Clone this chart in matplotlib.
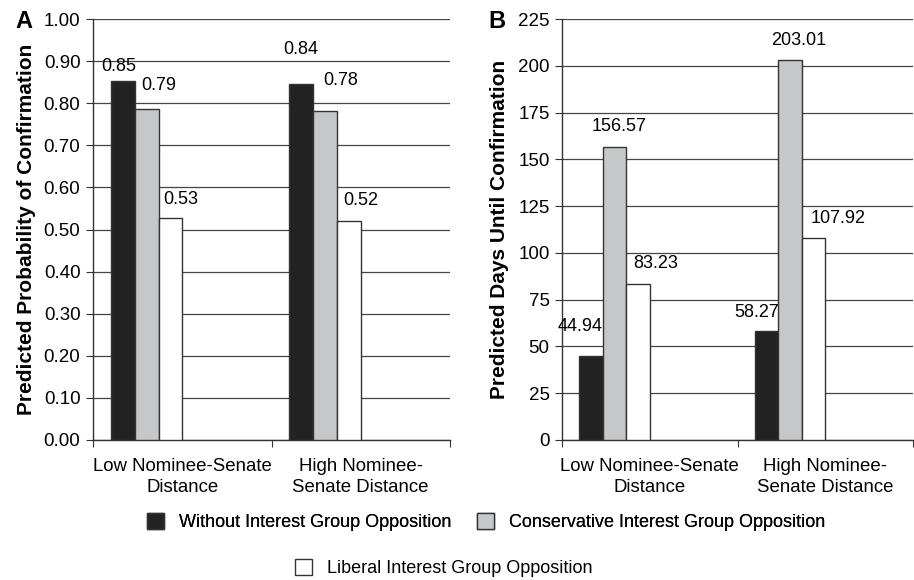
import matplotlib
matplotlib.use("Agg")
import matplotlib.pyplot as plt
from matplotlib.patches import Patch
import numpy as np

plt.rcParams['font.family'] = ['Liberation Sans', 'DejaVu Sans']

categories = ["Low Nominee-Senate\nDistance", "High Nominee-\nSenate Distance"]
series_names = ["Without Interest Group Opposition",
                "Conservative Interest Group Opposition",
                "Liberal Interest Group Opposition"]
prob_without = [0.852, 0.845]
prob_conservative = [0.787, 0.781]
prob_liberal = [0.527, 0.520]
prob_labels = [["0.85", "0.84"], ["0.79", "0.78"], ["0.53", "0.52"]]
days_without = [44.94, 58.27]
days_conservative = [156.57, 203.01]
days_liberal = [83.23, 107.92]
days_labels = [["44.94", "58.27"], ["156.57", "203.01"], ["83.23", "107.92"]]

colors = ["#222222", "#c6c7c9", "#ffffff"]
offsets = [-0.334, -0.2, -0.066]
width = 0.134

# label offsets in pixels (dx, dy) per series per category
prob_lab_off = [[(-4, 15), (0, 35)], [(12, 23), (16, 31)], [(10, 19), (12, 21)]]
days_lab_off = [[(-11, 29), (-10, 18)], [(4, 21), (9, 20)], [(18, 21), (24, 20)]]

FS = 13

fig = plt.figure(figsize=(9.14, 5.8), dpi=100)
W, H = 914, 580
axA = fig.add_axes([93 / W, (H - 440) / H, (450 - 93) / W, 421 / H])
axB = fig.add_axes([562 / W, (H - 440) / H, (913 - 562) / W, 421 / H])

def draw(ax, data, labels, laboffs, ylim, yticks, yfmt, ylabel, labx):
    x = np.arange(len(categories))
    for i, vals in enumerate(data):
        bars = ax.bar(x + offsets[i], vals, width, color=colors[i],
                      edgecolor="#333333", linewidth=1.0, zorder=3)
        for j, b in enumerate(bars):
            dx, dy = laboffs[i][j]
            ax.annotate(labels[i][j], (b.get_x() + b.get_width() / 2, b.get_height()),
                        xytext=(dx * 0.72, dy * 0.72), textcoords="offset points",
                        ha="center", va="center", fontsize=FS, zorder=4)
    ax.set_xlim(-0.5, 1.5)
    ax.set_ylim(*ylim)
    ax.set_yticks(yticks)
    ax.set_yticklabels([yfmt.format(v) for v in yticks])
    ax.yaxis.grid(True, color="#444444", linewidth=0.9, zorder=0)
    ax.set_axisbelow(True)
    ax.set_xticks([-0.5, 0.5, 1.5])
    ax.set_xticklabels([])
    ax.set_xticks(x, minor=True)
    ax.set_xticklabels(categories, minor=True, fontsize=13.4, linespacing=1.3)
    ax.tick_params(axis="x", which="minor", length=0, pad=13)
    ax.tick_params(axis="x", which="major", length=5, color="#333333")
    ax.tick_params(axis="y", length=5, labelsize=13.5, color="#333333", pad=4)
    for s in ["top", "right"]:
        ax.spines[s].set_visible(False)
    for s in ["left", "bottom"]:
        ax.spines[s].set_color("#333333")
        ax.spines[s].set_linewidth(1.0)
    ax.set_ylabel(ylabel, fontsize=15, fontweight="bold")
    ax.yaxis.set_label_coords(labx, 0.5)

draw(axA, [prob_without, prob_conservative, prob_liberal], prob_labels, prob_lab_off,
     (0, 1.0), np.round(np.arange(0, 1.01, 0.1), 2), "{:.2f}",
     "Predicted Probability of Confirmation", (36 - 93) / 357)
draw(axB, [days_without, days_conservative, days_liberal], days_labels, days_lab_off,
     (0, 225), np.arange(0, 226, 25), "{:.0f}",
     "Predicted Days Until Confirmation", (509 - 562) / 351)

fig.text(24 / W, 1 - 21 / H, "A", fontsize=17, fontweight="bold", ha="center", va="center")
fig.text(497 / W, 1 - 21 / H, "B", fontsize=17, fontweight="bold", ha="center", va="center")

handles = [Patch(facecolor=c, edgecolor="#333333", linewidth=1.0) for c in colors]
leg_kw = dict(frameon=False, fontsize=13, handlelength=0.97, handleheight=0.97,
              handletextpad=0.83, borderpad=0, borderaxespad=0)
leg1 = fig.legend(handles[:2], series_names[:2], loc="center",
                  bbox_to_anchor=(486 / W, 1 - 522 / H), ncol=2,
                  columnspacing=1.38, **leg_kw)
fig.add_artist(leg1)
fig.legend(handles[2:], series_names[2:], loc="center",
           bbox_to_anchor=(443.5 / W, 1 - 568 / H), **leg_kw)

fig.savefig("out.png", dpi=100)
